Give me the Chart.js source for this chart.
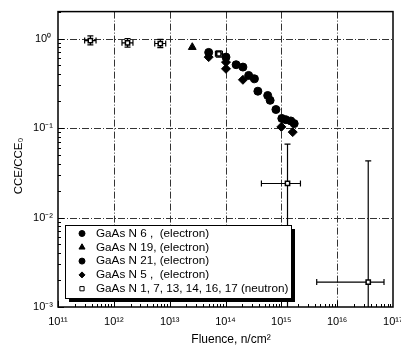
<!DOCTYPE html>
<html>
<head>
<meta charset="utf-8">
<style>
  html, body { margin: 0; padding: 0; background: #fff; overflow: hidden; }
</style>
<script src="https://cdn.jsdelivr.net/npm/chart.js"></script>
</head>
<body>
<canvas id="chart" width="430" height="346"></canvas>
<script>
// electron irradiated samples
const n6Fluence = [5.0e13, 1.02e14, 2.05e14, 3.3e14, 5.7e14, 1.02e15, 1.48e15];
const n6Cce = [0.70, 0.62, 0.48, 0.355, 0.231, 0.128, 0.12];
const n19Fluence = [2.54e13];
const n19Cce = [0.80];
const n21Fluence = [1.55e14, 2.6e14, 3.8e14, 6.3e14, 8.0e14, 1.2e15, 1.7e15];
const n21Cce = [0.51, 0.387, 0.258, 0.204, 0.161, 0.124, 0.112];
const n5Fluence = [5.0e13, 1.02e14, 1.02e14, 2.05e14, 1.0e15, 1.6e15];
const n5Cce = [0.62, 0.545, 0.459, 0.346, 0.103, 0.09];

// neutron irradiated samples, with error bars
const nFluence = [3.8e11, 1.76e12, 6.8e12, 7.6e13, 1.29e15, 3.6e16];
const nCce = [0.95, 0.896, 0.88, 0.675, 0.024, 0.0019];
const nFluenceLo = [3.0e11, 1.4e12, 5.4e12, 6.6e13, 4.4e14, 4.3e15];
const nFluenceHi = [4.8e11, 2.2e12, 8.5e12, 8.8e13, 2.2e15, 6.9e16];
const nCceLo = [0.85, 0.80, 0.79, 0.62, 0.0008, 0.0008];
const nCceHi = [1.07, 1.0, 0.98, 0.73, 0.066, 0.043];

const seriesLabels = [
  "GaAs N 6 ,  (electron)",
  "GaAs N 19, (electron)",
  "GaAs N 21, (electron)",
  "GaAs N 5 ,  (electron)",
  "GaAs N 1, 7, 13, 14, 16, 17 (neutron)"
];
const xTitle = "Fluence, n/cm\u00B2";
const yTitle = "CCE/CCE\u2080";

const xTicks = [1e11, 1e12, 1e13, 1e14, 1e15, 1e16, 1e17];
const yTicks = [1e-3, 1e-2, 1e-1, 1];

const FONT = "'Liberation Sans', Arial, sans-serif";
const supDigits = { "-": "\u207B", "0": "\u2070", "1": "\u00B9", "2": "\u00B2", "3": "\u00B3",
  "4": "\u2074", "5": "\u2075", "6": "\u2076", "7": "\u2077", "8": "\u2078", "9": "\u2079" };

function powLabel(v) {
  const e = String(Math.round(Math.log10(v)));
  return "10" + e.split("").map(c => supDigits[c]).join("");
}

function pts(xs, ys) {
  return xs.map((x, i) => ({ x: x, y: ys[i] }));
}

const plotDecor = {
  id: "plotDecor",
  beforeDatasetsDraw(chart) {
    const ctx = chart.ctx;
    const a = chart.chartArea;
    const xs = chart.scales.x;
    const ys = chart.scales.y;
    ctx.save();
    // dash-dot grid at decades
    ctx.strokeStyle = "#333";
    ctx.lineWidth = 1;
    ctx.setLineDash([7, 2, 1, 2]);
    xTicks.slice(1, -1).forEach(v => {
      const px = Math.round(xs.getPixelForValue(v)) + 0.5;
      ctx.beginPath(); ctx.moveTo(px, a.top); ctx.lineTo(px, a.bottom); ctx.stroke();
    });
    yTicks.slice(1).forEach(v => {
      const py = Math.round(ys.getPixelForValue(v)) + 0.5;
      ctx.beginPath(); ctx.moveTo(a.left, py); ctx.lineTo(a.right, py); ctx.stroke();
    });
    ctx.setLineDash([]);

    // error bars for the neutron points
    ctx.beginPath();
    ctx.rect(a.left, a.top, a.right - a.left, a.bottom - a.top);
    ctx.clip();
    ctx.strokeStyle = "#000";
    ctx.lineWidth = 1.2;
    nFluence.forEach((f, i) => {
      const cx = xs.getPixelForValue(f);
      const cy = ys.getPixelForValue(nCce[i]);
      const x0 = xs.getPixelForValue(nFluenceLo[i]);
      const x1 = xs.getPixelForValue(nFluenceHi[i]);
      const y0 = ys.getPixelForValue(nCceLo[i]);
      const y1 = ys.getPixelForValue(nCceHi[i]);
      ctx.beginPath();
      ctx.moveTo(x0, cy); ctx.lineTo(x1, cy);
      ctx.moveTo(x0, cy - 3); ctx.lineTo(x0, cy + 3);
      ctx.moveTo(x1, cy - 3); ctx.lineTo(x1, cy + 3);
      ctx.moveTo(cx, y0); ctx.lineTo(cx, y1);
      ctx.moveTo(cx - 3, y1); ctx.lineTo(cx + 3, y1);
      ctx.moveTo(cx - 3, y0); ctx.lineTo(cx + 3, y0);
      ctx.stroke();
    });
    ctx.restore();
  },
  afterDraw(chart) {
    const ctx = chart.ctx;
    const a = chart.chartArea;
    const xs = chart.scales.x;
    const ys = chart.scales.y;
    ctx.save();
    ctx.strokeStyle = "#000";

    // inward ticks, major and minor
    ctx.lineWidth = 1;
    ctx.beginPath();
    for (let e = 11; e < 17; e++) {
      for (let m = 1; m < 10; m++) {
        const px = Math.round(xs.getPixelForValue(m * Math.pow(10, e))) + 0.5;
        const len = m === 1 ? 6 : 3;
        ctx.moveTo(px, a.bottom); ctx.lineTo(px, a.bottom - len);
      }
    }
    for (let e = -3; e <= 0; e++) {
      for (let m = 1; m < 10; m++) {
        const v = m * Math.pow(10, e);
        if (v > ys.max) break;
        const py = Math.round(ys.getPixelForValue(v)) + 0.5;
        const len = m === 1 ? 6 : 3;
        ctx.moveTo(a.left, py); ctx.lineTo(a.left + len, py);
      }
    }
    ctx.stroke();

    // frame
    ctx.lineWidth = 1.5;
    ctx.strokeRect(a.left, a.top, a.right - a.left, a.bottom - a.top);

    // axis titles
    ctx.fillStyle = "#000";
    ctx.textAlign = "center";
    ctx.textBaseline = "middle";
    ctx.font = "12px " + FONT;
    ctx.fillText(xTitle, 231, 340);
    ctx.save();
    ctx.translate(19, 166);
    ctx.rotate(-Math.PI / 2);
    ctx.font = "11.5px " + FONT;
    ctx.fillText(yTitle, 0, 0);
    ctx.restore();

    // legend box with drop shadow
    const lx = 65, ly = 225, lw = 226, lh = 73;
    ctx.fillStyle = "#000";
    ctx.fillRect(lx + 4, ly + 4, lw, lh);
    ctx.fillStyle = "#fff";
    ctx.fillRect(lx, ly, lw, lh);
    ctx.lineWidth = 1;
    ctx.strokeRect(lx + 0.5, ly + 0.5, lw, lh);

    ctx.font = "11.7px " + FONT;
    ctx.textBaseline = "middle";
    ctx.textAlign = "left";
    chart.data.datasets.forEach((ds, i) => {
      const yy = ly + 8.5 + i * 13.8;
      ctx.fillStyle = ds.backgroundColor;
      ctx.strokeStyle = "#000";
      Chart.helpers.drawPoint(ctx, {
        pointStyle: ds.pointStyle,
        radius: ds.pointStyle === "triangle" ? 3.5 : 3,
        rotation: 0,
        borderWidth: ds.borderWidth
      }, 82, yy);
      ctx.fillStyle = "#000";
      ctx.fillText(ds.label, 96, yy);
    });
    ctx.restore();
  }
};

const electron = (label, xs, ys, style, r) => ({
  label: label,
  data: pts(xs, ys),
  pointStyle: style,
  pointRadius: r,
  backgroundColor: "#000",
  borderColor: "#000",
  borderWidth: 1
});

new Chart(document.getElementById("chart").getContext("2d"), {
  type: "scatter",
  data: {
    datasets: [
      electron(seriesLabels[0], n6Fluence, n6Cce, "circle", 4),
      electron(seriesLabels[1], n19Fluence, n19Cce, "triangle", 4.5),
      electron(seriesLabels[2], n21Fluence, n21Cce, "circle", 4),
      electron(seriesLabels[3], n5Fluence, n5Cce, "rectRot", 4.5),
      {
        label: seriesLabels[4],
        data: pts(nFluence, nCce),
        pointStyle: "rect",
        pointRadius: 3,
        backgroundColor: "#fff",
        borderColor: "#000",
        borderWidth: 1.5
      }
    ]
  },
  options: {
    responsive: false,
    animation: false,
    devicePixelRatio: 1,
    layout: { padding: { top: 11, right: 37, left: 0, bottom: 0 } },
    plugins: { legend: { display: false }, tooltip: { enabled: false } },
    scales: {
      x: {
        type: "logarithmic",
        min: 1e11,
        max: 1e17,
        afterBuildTicks: s => { s.ticks = xTicks.map(v => ({ value: v })); },
        afterFit: s => { s.height = 39; },
        grid: { display: false, drawTicks: false },
        border: { display: false },
        ticks: {
          padding: 8,
          maxRotation: 0,
          autoSkip: false,
          color: "#000",
          font: { family: FONT, size: 11 },
          callback: v => powLabel(v)
        }
      },
      y: {
        type: "logarithmic",
        min: 1e-3,
        max: 2,
        afterBuildTicks: s => { s.ticks = yTicks.map(v => ({ value: v })); },
        afterFit: s => { s.width = 58; },
        grid: { display: false, drawTicks: false },
        border: { display: false },
        ticks: {
          padding: 5,
          crossAlign: "center",
          color: "#000",
          font: { family: FONT, size: 11 },
          callback: v => powLabel(v)
        }
      }
    }
  },
  plugins: [plotDecor]
});
</script>
</body>
</html>
